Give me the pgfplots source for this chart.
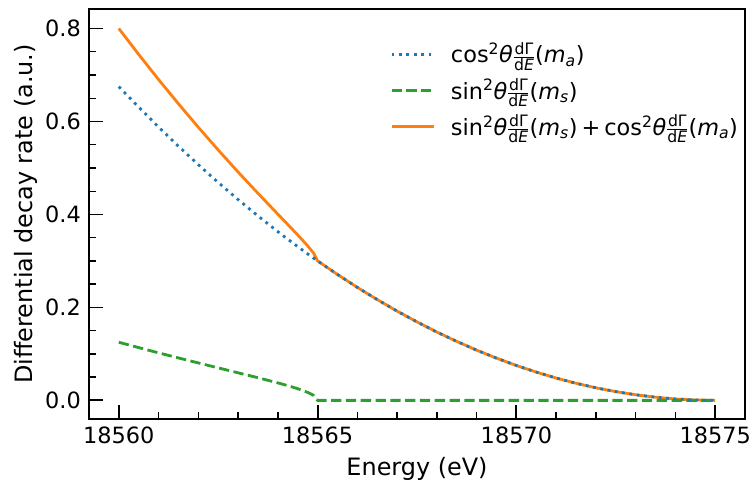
\RequirePackage{fix-cm}
\documentclass[border=0pt]{standalone}
\usepackage{fontspec}
\setmainfont{DejaVu Sans}
\usepackage{amsmath}
\usepackage{pgfplots}
\pgfplotsset{compat=1.18}
\definecolor{tabblue}{HTML}{1F77B4}
\definecolor{taborange}{HTML}{FF7F0E}
\definecolor{tabgreen}{HTML}{2CA02C}
\newcommand{\dGdE}{\ensuremath{\frac{\text{dΓ}}{\text{d\textit{E}}}}}
\begin{document}
\fontsize{22.5}{27}\selectfont
\begin{tikzpicture}
\begin{axis}[
  scale only axis, width=656bp, height=410bp,
  xmin=18559.25, xmax=18575.75, ymin=-0.0401, ymax=0.842,
  xtick={18560,18565,18570,18575}, ytick={0,0.2,0.4,0.6,0.8},
  scaled x ticks=false, scaled y ticks=false,
  minor x tick num=4, minor y tick num=3,
  tick align=inside, xtick pos=left, ytick pos=left,
  major tick length=14bp, minor tick length=7bp,
  every major tick/.style={line width=1.8bp, black},
  every minor tick/.style={line width=1.4bp, black},
  axis line style={line width=2.4bp},
  /pgf/number format/assume math mode=true,
  x tick label style={/pgf/number format/.cd, fixed, precision=0, 1000 sep={}, /tikz/.cd, inner sep=0pt, yshift=-8bp},
  y tick label style={/pgf/number format/.cd, fixed, fixed zerofill, precision=1, /tikz/.cd, inner sep=0pt, xshift=-8bp},
  xlabel={Energy (eV)}, ylabel={Differential decay rate (a.u.)},
  xlabel style={at={(axis description cs:0.5,-0.139)}, anchor=base, inner sep=0pt, font=\fontsize{24}{28}\selectfont},
  ylabel style={at={(axis description cs:-0.0854,0.5)}, anchor=base, inner sep=0pt, font=\fontsize{24}{28}\selectfont},
  legend style={draw=none, fill=none, at={(axis description cs:0.4588,0.9195)}, anchor=north west,
    inner sep=0pt, row sep=12bp, column sep=16bp, nodes={inner sep=0pt}},
  legend cell align=left,
  legend image code/.code={\draw[#1] (0bp,0bp) -- (42bp,0bp);},
  reverse legend,
]
\addplot[taborange, line width=2.8bp] coordinates {
(18560,0.800) (18560.5,0.7443) (18561,0.6902) (18561.5,0.6381) (18562,0.5875)
(18562.5,0.5387) (18563,0.4913) (18563.5,0.4455) (18564,0.4006) (18564.25,0.3783)
(18564.5,0.3559) (18564.75,0.3324) (18564.9,0.3167) (18565,0.300)
(18565.5,0.2708) (18566,0.243) (18566.5,0.2168) (18567,0.192) (18567.5,0.1688)
(18568,0.147) (18568.5,0.1268) (18569,0.108) (18569.5,0.0908) (18570,0.075)
(18570.5,0.0608) (18571,0.048) (18571.5,0.0368) (18572,0.027) (18572.5,0.0188)
(18573,0.012) (18573.5,0.0068) (18574,0.003) (18574.5,0.00075) (18575,0)
};
\addlegendentry{sin\textsuperscript{2}\textit{θ}\dGdE(\textit{m}\textsubscript{\textit{s}})\hspace{4bp}+\hspace{4bp}cos\textsuperscript{2}\textit{θ}\dGdE(\textit{m}\textsubscript{\textit{a}})}
\addplot[tabgreen, line width=2.8bp, dash pattern=on 10.3bp off 4.5bp] coordinates {
(18560,0.125) (18560.5,0.1135) (18561,0.1022) (18561.5,0.0913) (18562,0.0805)
(18562.5,0.0699) (18563,0.0593) (18563.5,0.0487) (18564,0.0376) (18564.25,0.0316)
(18564.5,0.0251) (18564.75,0.0172) (18564.9,0.0107) (18565,0) (18575,0)
};
\addlegendentry{sin\textsuperscript{2}\textit{θ}\dGdE(\textit{m}\textsubscript{\textit{s}})}
\addplot[tabblue, line width=2.8bp, dash pattern=on 2.8bp off 4.6bp] coordinates {
(18560,0.675) (18560.5,0.6308) (18561,0.588) (18561.5,0.5468) (18562,0.507)
(18562.5,0.4688) (18563,0.432) (18563.5,0.3968) (18564,0.363) (18564.25,0.3467)
(18564.5,0.3308) (18564.75,0.3152) (18565,0.300)
(18565.5,0.2708) (18566,0.243) (18566.5,0.2168) (18567,0.192) (18567.5,0.1688)
(18568,0.147) (18568.5,0.1268) (18569,0.108) (18569.5,0.0908) (18570,0.075)
(18570.5,0.0608) (18571,0.048) (18571.5,0.0368) (18572,0.027) (18572.5,0.0188)
(18573,0.012) (18573.5,0.0068) (18574,0.003) (18574.5,0.00075) (18575,0)
};
\addlegendentry{cos\textsuperscript{2}\textit{θ}\dGdE(\textit{m}\textsubscript{\textit{a}})}
\end{axis}
\path (current axis.south west) ++(-89bp,-68bp) rectangle ++(756bp,487bp);
\end{tikzpicture}
\end{document}
